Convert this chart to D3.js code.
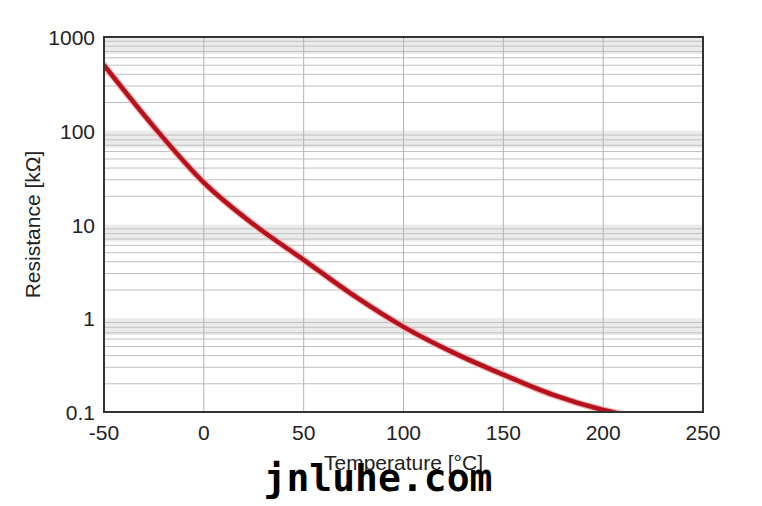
<!DOCTYPE html>
<html>
<head>
<meta charset="utf-8">
<script src="https://cdn.jsdelivr.net/npm/d3@7"></script>
<style>
  body { margin: 0; background: #fff; }
  svg text { font-family: "Liberation Sans", Arial, sans-serif; fill: #222; }
</style>
</head>
<body>
<div id="chart"></div>
<script>
// --- data ---
const temps = [-50, -25, 0, 25, 50, 75, 100, 125, 150, 175, 200, 212];
const resistance = [500, 110, 28, 10, 4.2, 1.75, 0.81, 0.43, 0.25, 0.152, 0.105, 0.092];
const xTicks = [-50, 0, 50, 100, 150, 200, 250];
const yTicks = [0.1, 1, 10, 100, 1000];
const yTickLabels = ["0.1", "1", "10", "100", "1000"];

const W = 762, H = 506;
const margin = { top: 37, left: 104, right: 59, bottom: 94 };
const width = W - margin.left - margin.right;
const height = H - margin.top - margin.bottom;

const svg = d3.select("#chart").append("svg")
  .attr("width", W)
  .attr("height", H);

const chart = svg.append("g")
  .attr("transform", `translate(${margin.left}, ${margin.top})`);

const x = d3.scaleLinear().domain([-50, 250]).range([0, width]);
const y = d3.scaleLog().domain([0.1, 1000]).range([height, 0]);

// gray bands just under each decade line
const bands = yTicks.slice(1);
chart.append("g").selectAll("rect")
  .data(bands)
  .enter().append("rect")
  .attr("x", 0)
  .attr("width", width)
  .attr("y", d => y(d))
  .attr("height", d => y(d * 0.66) - y(d))
  .attr("fill", "#ebebeb");

// minor log grid
const minor = [];
[0.1, 1, 10, 100].forEach(dec => {
  for (let k = 2; k <= 9; k++) minor.push(dec * k);
});
chart.append("g").selectAll("line")
  .data(minor)
  .enter().append("line")
  .attr("x1", 0).attr("x2", width)
  .attr("y1", d => y(d)).attr("y2", d => y(d))
  .attr("stroke", "#c0c0c0")
  .attr("stroke-width", 1);

// vertical grid
chart.append("g").selectAll("line")
  .data(xTicks.slice(1, -1))
  .enter().append("line")
  .attr("x1", d => x(d)).attr("x2", d => x(d))
  .attr("y1", 0).attr("y2", height)
  .attr("stroke", "#b4b4b4")
  .attr("stroke-width", 1);

// curve
chart.append("clipPath").attr("id", "clip")
  .append("rect").attr("width", width).attr("height", height);

const line = d3.line()
  .x((d, i) => x(temps[i]))
  .y(d => y(d))
  .curve(d3.curveMonotoneX);

chart.append("path")
  .datum(resistance)
  .attr("clip-path", "url(#clip)")
  .attr("d", line)
  .attr("fill", "none")
  .attr("stroke", "#f3b6b8")
  .attr("stroke-width", 7)
  .attr("stroke-linecap", "round");

chart.append("path")
  .datum(resistance)
  .attr("clip-path", "url(#clip)")
  .attr("d", line)
  .attr("fill", "none")
  .attr("stroke", "#b5121d")
  .attr("stroke-width", 4.5);

// frame
chart.append("rect")
  .attr("width", width)
  .attr("height", height)
  .attr("fill", "none")
  .attr("stroke", "#333")
  .attr("stroke-width", 2);

// tick labels
chart.append("g").selectAll("text")
  .data(xTicks)
  .enter().append("text")
  .attr("x", d => x(d))
  .attr("y", height + 28)
  .attr("text-anchor", "middle")
  .style("font-size", "21px")
  .text(d => d);

chart.append("g").selectAll("text")
  .data(yTicks)
  .enter().append("text")
  .attr("x", -9)
  .attr("y", d => y(d) + 8)
  .attr("text-anchor", "end")
  .style("font-size", "21px")
  .text((d, i) => yTickLabels[i]);

// axis titles
svg.append("text")
  .attr("transform", `translate(40, ${margin.top + height / 2}) rotate(-90)`)
  .attr("text-anchor", "middle")
  .style("font-size", "21px")
  .text("Resistance [kΩ]");

svg.append("text")
  .attr("x", margin.left + x(100))
  .attr("y", 470)
  .attr("text-anchor", "middle")
  .style("font-size", "21px")
  .text("Temperature [°C]");

// watermark
svg.append("text")
  .attr("x", 378)
  .attr("y", 491)
  .attr("text-anchor", "middle")
  .style("font-family", "'DejaVu Sans Mono', monospace")
  .style("font-weight", "bold")
  .style("font-size", "38px")
  .style("fill", "#000")
  .text("jnluhe.com");
</script>
</body>
</html>
